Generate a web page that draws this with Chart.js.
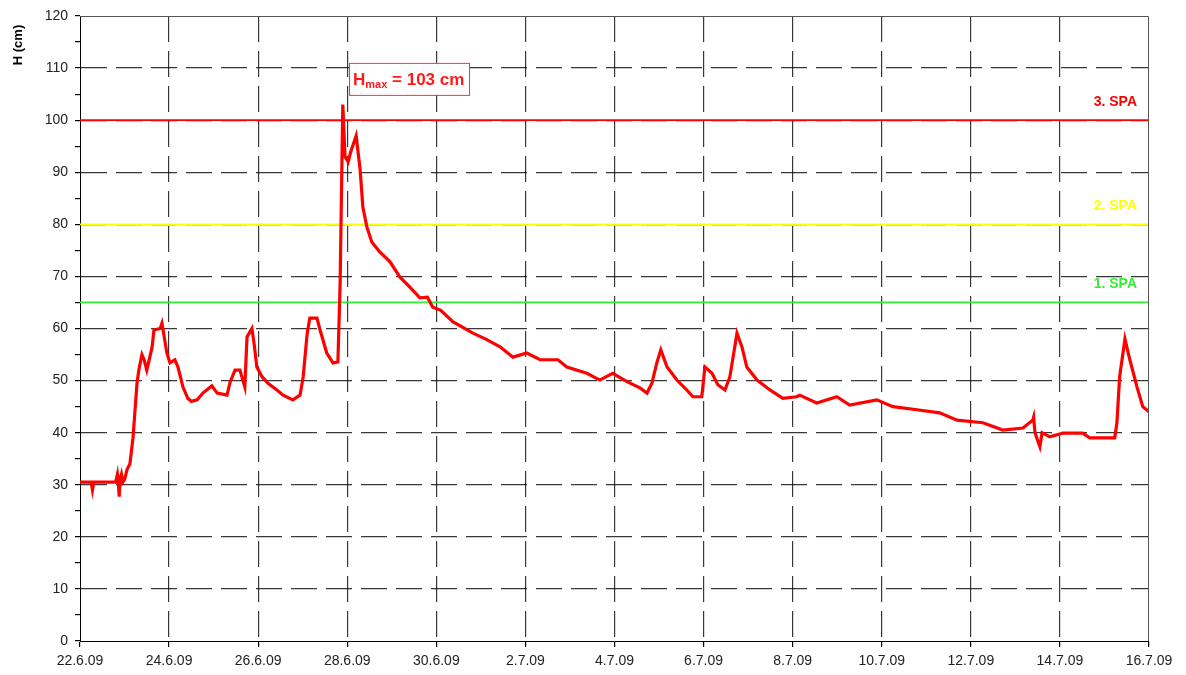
<!DOCTYPE html>
<html>
<head>
<meta charset="utf-8">
<script src="https://cdn.jsdelivr.net/npm/chart.js@4/dist/chart.umd.min.js"></script>
<style>
  html, body { margin: 0; padding: 0; background: #fff; }
  #wrap { width: 1186px; height: 675px; }
</style>
</head>
<body>
<div id="wrap"><canvas id="chart"></canvas></div>
<script>
// Tick labels on the time axis (one every 2 days, from 22.6.09)
const xLabels = ['22.6.09', '24.6.09', '26.6.09', '28.6.09', '30.6.09', '2.7.09', '4.7.09',
    '6.7.09', '8.7.09', '10.7.09', '12.7.09', '14.7.09', '16.7.09'];

// Water level readings: days since 22.6.09 and level in cm
const days = [0.00, 0.25, 0.28, 0.31, 0.55, 0.80, 0.84, 0.86, 0.88, 0.90, 0.93, 0.96, 1.00,
    1.06, 1.12, 1.19, 1.28, 1.32, 1.39, 1.44, 1.50, 1.62, 1.66, 1.80, 1.84, 1.86, 1.95, 2.02,
    2.13, 2.20, 2.31, 2.42, 2.50, 2.63, 2.76, 2.96, 3.08, 3.30, 3.37, 3.48, 3.59, 3.70, 3.75,
    3.86, 3.91, 3.97, 4.09, 4.22, 4.42, 4.56, 4.78, 4.94, 5.01, 5.10, 5.16, 5.32, 5.39, 5.54,
    5.68, 5.79, 5.84, 5.90, 5.95, 6.02, 6.08, 6.20, 6.29, 6.35, 6.44, 6.55, 6.73, 6.96, 7.18,
    7.40, 7.63, 7.80, 7.92, 8.10, 8.37, 8.82, 9.10, 9.43, 9.72, 10.03, 10.33, 10.73, 10.93,
    11.38, 11.67, 11.96, 12.28, 12.57, 12.73, 12.84, 12.95, 13.04, 13.18, 13.40, 13.62, 13.76,
    13.96, 14.03, 14.19, 14.32, 14.48, 14.59, 14.75, 14.86, 14.97, 15.20, 15.49, 15.78, 16.09,
    16.16, 16.54, 16.99, 17.28, 17.89, 18.25, 18.79, 19.30, 19.69, 20.27, 20.72, 21.17, 21.39,
    21.41, 21.44, 21.55, 21.60, 21.77, 22.07, 22.51, 22.67, 23.23, 23.28, 23.34, 23.46, 23.57,
    23.73, 23.86, 24.00];
const levels = [30.5, 30.5, 29, 30.5, 30.5, 30.5, 32, 30.5, 27.7, 31, 32, 30.5, 31,
    33, 34, 39, 49.5, 52, 55, 54, 52, 56.5, 59.7, 60, 61, 60, 55.3, 53.4,
    54, 52.6, 48.8, 46.6, 46, 46.3, 47.6, 49, 47.6, 47.2, 49.7, 52, 52, 48.8, 58.4,
    60, 57, 52.6, 50.7, 49.5, 48.2, 47.2, 46.3, 47.2, 50.7, 59, 62, 62, 59.7, 55.3,
    53.4, 53.6, 68.7, 103, 93, 92, 94, 97, 90.4, 83.3, 79.5, 76.6, 74.7, 72.8, 69.9,
    68, 65.9, 66, 64.1, 63.5, 61.3, 59.1, 58, 56.5, 54.5, 55.3, 54, 54, 52.6,
    51.4, 50.1, 51.4, 49.8, 48.6, 47.6, 49.5, 53.4, 55.9, 52.6, 50.1, 48.2, 46.9,
    46.9, 52.6, 51.4, 49.2, 48.2, 50.7, 59.1, 56.5, 52.6, 50.1, 48.2, 46.6, 46.9,
    47.2, 45.7, 46.9, 45.3, 46.3, 45, 44.4, 43.8, 42.4, 41.9, 40.5, 40.9, 42.4,
    43, 40, 37.3, 40, 39.2, 39.9, 39.9, 39, 39, 41.9, 50.7, 58, 54,
    48.8, 45, 44];

// Alarm levels (SPA)
const spaNames = ['1. SPA', '2. SPA', '3. SPA'];
const spaLevels = [65, 80, 100];
const spaColors = ['#33ee33', '#ffff00', '#ff0000'];

const maxLevel = 103;

const fontFamily = 'Arial, "Liberation Sans", sans-serif';

const seriesData = days.map((d, i) => ({ x: d, y: levels[i] }));

const spaDatasets = spaLevels.map((lvl, i) => ({
    label: spaNames[i],
    data: [{ x: 0, y: lvl }, { x: 24, y: lvl }],
    borderColor: spaColors[i],
    borderWidth: 1.8,
    pointRadius: 0
}));

// Frame, y title, SPA labels and Hmax box
const extrasPlugin = {
    id: 'extras',
    afterDraw(chart) {
        const { ctx, chartArea: a, scales } = chart;
        ctx.save();

        // top / right frame
        ctx.strokeStyle = '#555';
        ctx.lineWidth = 1;
        ctx.beginPath();
        ctx.moveTo(a.left, a.top + 0.5);
        ctx.lineTo(a.right - 0.5, a.top + 0.5);
        ctx.lineTo(a.right - 0.5, a.bottom);
        ctx.stroke();

        // y axis title
        ctx.save();
        ctx.translate(18, 45);
        ctx.rotate(-Math.PI / 2);
        ctx.fillStyle = '#000';
        ctx.font = 'bold 13px ' + fontFamily;
        ctx.textAlign = 'center';
        ctx.textBaseline = 'middle';
        ctx.fillText('H (cm)', 0, 0);
        ctx.restore();

        // SPA labels
        ctx.font = 'bold 14px ' + fontFamily;
        ctx.textAlign = 'right';
        ctx.textBaseline = 'middle';
        spaLevels.forEach((lvl, i) => {
            ctx.fillStyle = spaColors[i];
            ctx.fillText(spaNames[i], a.right - 12, scales.y.getPixelForValue(lvl) - 18);
        });

        // Hmax annotation box
        const bx = scales.x.getPixelForValue(6.04);
        const by = scales.y.getPixelForValue(111);
        const bw = 120, bh = 32;
        ctx.fillStyle = '#fff';
        ctx.fillRect(bx, by, bw, bh);
        ctx.strokeStyle = '#ff3030';
        ctx.strokeRect(bx + 0.5, by + 0.5, bw, bh);
        ctx.fillStyle = '#ff1a1a';
        ctx.textAlign = 'left';
        ctx.textBaseline = 'alphabetic';
        let tx = bx + 4;
        const base = by + 22;
        ctx.font = 'bold 17px ' + fontFamily;
        ctx.fillText('H', tx, base);
        tx += ctx.measureText('H').width;
        ctx.font = 'bold 11px ' + fontFamily;
        ctx.fillText('max', tx, base + 3);
        tx += ctx.measureText('max').width;
        ctx.font = 'bold 17px ' + fontFamily;
        ctx.fillText(' = ' + maxLevel + ' cm', tx, base);

        ctx.restore();
    }
};

const gridDash = [26, 9];

new Chart(document.getElementById('chart'), {
    type: 'line',
    data: {
        datasets: [{
            label: 'H',
            data: seriesData,
            borderColor: '#ff0000',
            borderWidth: 3.2,
            pointRadius: 0,
            tension: 0
        }].concat(spaDatasets)
    },
    options: {
        responsive: true,
        maintainAspectRatio: false,
        animation: false,
        layout: { padding: { top: 16, right: 37, left: 0, bottom: 0 } },
        plugins: {
            legend: { display: false },
            tooltip: { enabled: false }
        },
        scales: {
            x: {
                type: 'linear',
                min: 0,
                max: 24,
                afterFit: s => { s.height = 34; },
                ticks: {
                    stepSize: 2,
                    color: '#222',
                    padding: 6,
                    maxRotation: 0,
                    font: { family: fontFamily, size: 14 },
                    callback: v => xLabels[Math.round(v / 2)]
                },
                grid: {
                    color: c => (c.tick && c.tick.value > 0 && c.tick.value < 24) ? 'rgba(0,0,0,0.78)' : 'transparent',
                    lineWidth: 1.2,
                    tickColor: '#000',
                    tickLength: 6,
                    tickBorderDash: []
                },
                border: { display: true, color: '#000', width: 1, dash: gridDash }
            },
            y: {
                min: 0,
                max: 120,
                afterFit: s => { s.width = 80; },
                ticks: {
                    stepSize: 5,
                    color: '#222',
                    padding: 7,
                    autoSkip: false,
                    font: { family: fontFamily, size: 14 },
                    callback: v => (v % 10 === 0 ? v : '')
                },
                grid: {
                    color: c => (c.tick && c.tick.value % 10 === 0 && c.tick.value > 0 && c.tick.value < 120) ? 'rgba(0,0,0,0.78)' : 'transparent',
                    lineWidth: 1.2,
                    tickColor: '#000',
                    tickLength: 5,
                    tickBorderDash: []
                },
                border: { display: true, color: '#000', width: 1, dash: gridDash }
            }
        }
    },
    plugins: [extrasPlugin]
});
</script>
</body>
</html>
